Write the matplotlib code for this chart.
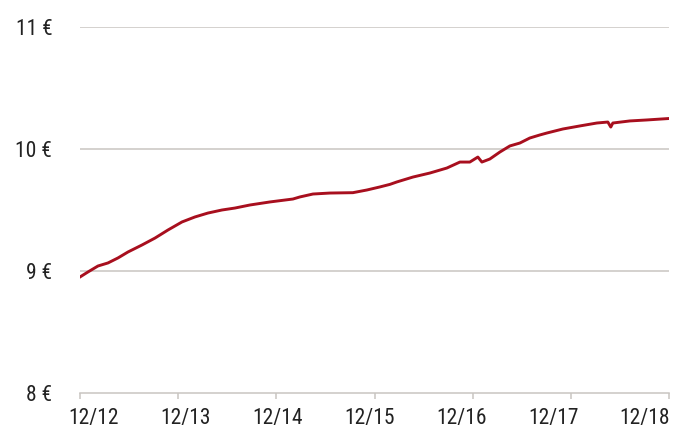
import matplotlib
matplotlib.use('Agg')
import matplotlib.pyplot as plt

# years since Dec 2012, value in EUR
years = [0.0, 0.081, 0.183, 0.285, 0.387, 0.489, 0.631, 0.764, 0.896, 1.039,
         1.171, 1.303, 1.446, 1.578, 1.731, 1.935, 2.169, 2.240, 2.373, 2.546,
         2.780, 2.923, 3.055, 3.157, 3.228, 3.391, 3.564, 3.737, 3.870, 3.971,
         4.053, 4.094, 4.175, 4.277, 4.379, 4.481, 4.582, 4.684, 4.756, 4.919,
         5.092, 5.265, 5.377, 5.407, 5.428, 5.601, 5.774, 6.0]
values = [8.951, 8.992, 9.041, 9.066, 9.107, 9.156, 9.213, 9.270, 9.336, 9.402,
          9.443, 9.475, 9.500, 9.516, 9.541, 9.566, 9.590, 9.607, 9.631, 9.639,
          9.642, 9.664, 9.689, 9.710, 9.730, 9.770, 9.803, 9.844, 9.893, 9.893,
          9.934, 9.893, 9.918, 9.975, 10.025, 10.049, 10.090, 10.115, 10.131, 10.164,
          10.189, 10.213, 10.221, 10.180, 10.213, 10.230, 10.238, 10.250]

x_ticks = [0, 1, 2, 3, 4, 5, 6]
x_labels = ['12/12', '12/13', '12/14', '12/15', '12/16', '12/17', '12/18']
y_ticks = [8, 9, 10, 11]
y_labels = ['8 €', '9 €', '10 €', '11 €']

plt.rcParams['font.family'] = ['Roboto Condensed', 'Arial Narrow', 'Roboto', 'DejaVu Sans']

GRID = '#c9c5c1'
RED = '#a80f1e'
TEXT = '#222222'
FS = 15.5

fig = plt.figure(figsize=(6.73, 4.29), dpi=100)
ax = fig.add_axes([80 / 673, 1 - 393 / 429, 589 / 673, 366 / 429])

ax.plot(years, values, color=RED, linewidth=2.1, zorder=3)

ax.set_xlim(0, 6)
ax.set_ylim(8, 11)
ax.set_xticks(x_ticks)
ax.set_xticklabels([])
ax.set_yticks(y_ticks)
ax.set_yticklabels(y_labels, fontsize=FS, color=TEXT)

# category-style labels: evenly spread, slightly inset from the tick marks
n = len(x_labels)
first, last = 14 / 589, 1 - 24 / 589
for i, lab in enumerate(x_labels):
    xf = first + (last - first) * i / (n - 1)
    ax.text(xf, -31 / 366, lab, transform=ax.transAxes, ha='center', va='baseline',
            fontsize=FS, color=TEXT)

for y in y_ticks[1:]:
    ax.axhline(y, color=GRID, linewidth=1.1, zorder=1)

for side in ['top', 'right', 'left']:
    ax.spines[side].set_visible(False)
ax.spines['bottom'].set_color(GRID)
ax.spines['bottom'].set_linewidth(1.1)

ax.tick_params(axis='x', direction='out', length=4.5, width=1.1, color=GRID)
ax.tick_params(axis='y', length=0, pad=20)

fig.savefig('out.png', dpi=100)
